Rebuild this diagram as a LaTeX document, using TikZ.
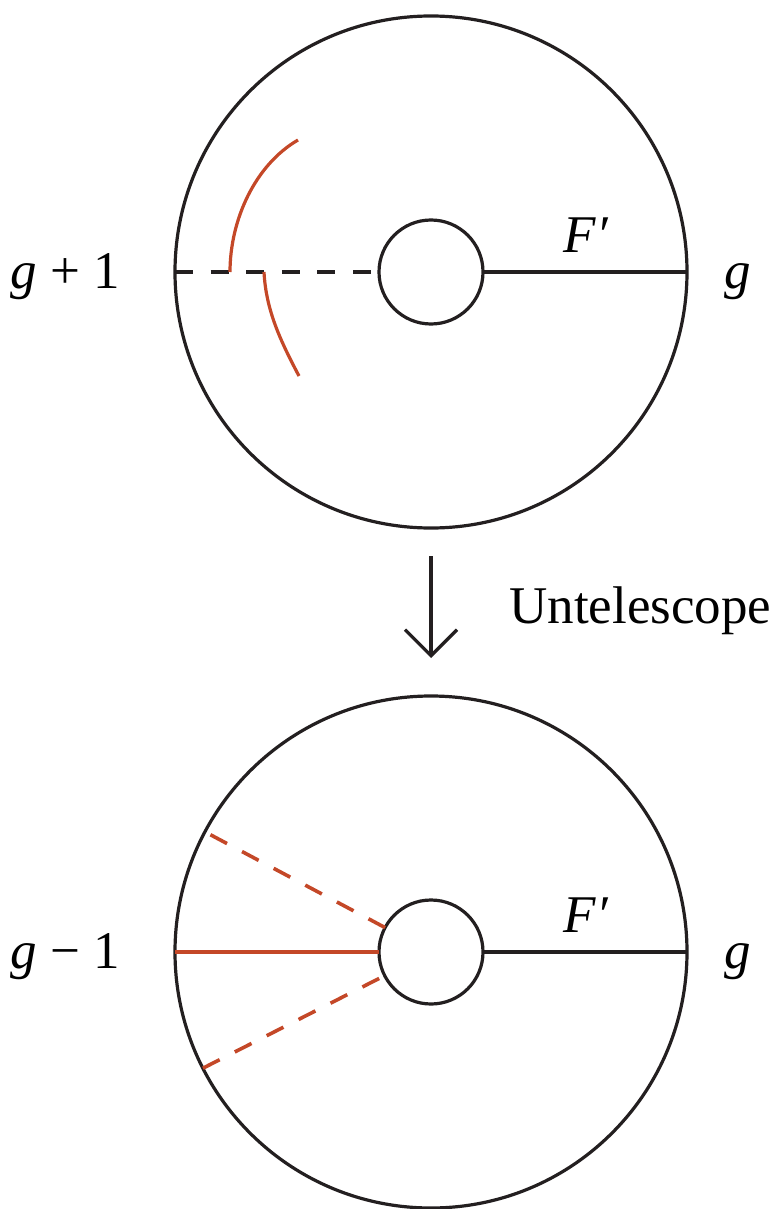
\documentclass[tikz,border=0pt]{standalone}
\usepackage{fontspec}
\setmainfont{Liberation Serif}
\usetikzlibrary{arrows.meta}
\definecolor{ink}{RGB}{35,31,32}
\definecolor{rust}{RGB}{196,72,40}
\tikzset{
  ring/.style={circle, draw=ink, line width=1.6pt, minimum size=256pt, inner sep=0pt, outer sep=0pt},
  hole/.style={circle, draw=ink, line width=1.6pt, minimum size=52pt, inner sep=0pt, outer sep=0pt},
  edgeline/.style={draw=ink, line width=1.6pt},
  dashline/.style={draw=ink, line width=1.6pt, dash pattern=on 9pt off 8.8pt},
  redcurve/.style={draw=rust, line width=1.6pt},
  redline/.style={draw=rust, line width=2pt},
  reddash/.style={draw=rust, line width=1.8pt, dash pattern=on 9.4pt off 8.5pt},
  lbl/.style={font=\fontsize{26.5}{30}\selectfont, inner sep=0pt, text=black},
}
\begin{document}
\begin{tikzpicture}[x=0.5pt, y=-0.5pt]
\useasboundingbox (0,0) rectangle (774,1209);
% top diagram
\node[ring] (outA) at (431,272) {};
\node[hole] (inA) at (431,272) {};
\draw[dashline] (outA.west) -- (inA.west);
\draw[edgeline] (inA.east) -- (outA.east);
\coordinate (cA1) at (230,272);
\coordinate (cA1e) at (298,140);
\coordinate (cA2) at (264,272);
\coordinate (cA2e) at (299,376);
\draw[redcurve] (cA1) .. controls (230,220) and (255,165) .. (cA1e);
\draw[redcurve] (cA2) .. controls (266,310) and (280,340) .. (cA2e);
\node[lbl, anchor=base] (lA) at (65,288) {\textit{g} + 1};
\node[lbl, anchor=base] (rA) at (738,288) {\textit{g}};
\node[lbl, anchor=base] (fA) at (586,252) {\textit{F′}};
% arrow
\coordinate (arS) at (431,556);
\coordinate (arE) at (431,658);
\draw[edgeline, -{Straight Barb[length=13pt, width=26pt, line width=1.6pt]}] (arS) -- (arE);
\node[lbl, anchor=base west] (ut) at (509,623) {Untelescope};
% bottom diagram
\node[ring] (outB) at (431,952) {};
\node[hole] (inB) at (431,952) {};
\draw[redline] (outB.west) -- (inB.west);
\draw[edgeline] (inB.east) -- (outB.east);
\draw[reddash] (inB.152.5) -- (outB.152.5);
\draw[reddash] (outB.207.5) -- (inB.207.5);
\node[lbl, anchor=base] (lB) at (65,968) {\textit{g} − 1};
\node[lbl, anchor=base] (rB) at (738,968) {\textit{g}};
\node[lbl, anchor=base] (fB) at (586,932) {\textit{F′}};
\end{tikzpicture}
\end{document}
